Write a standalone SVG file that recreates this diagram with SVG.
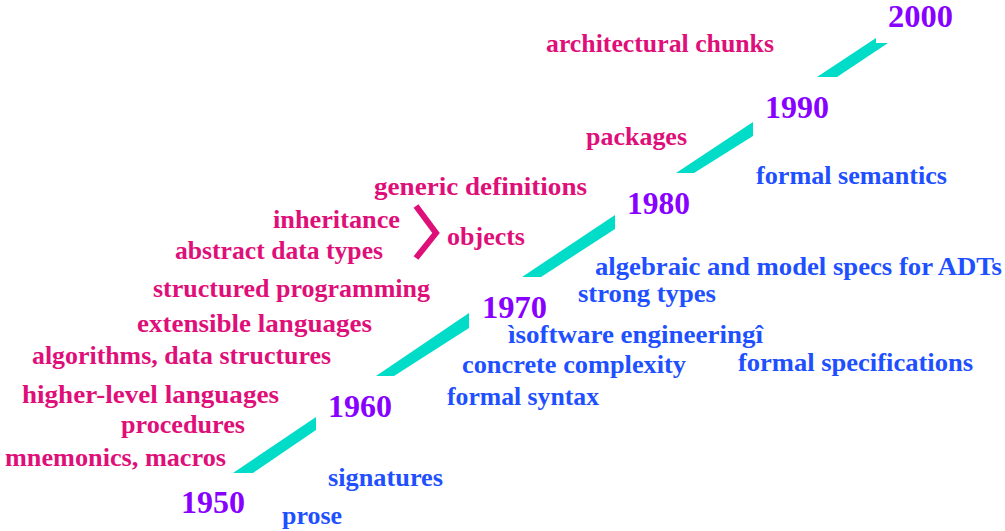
<svg xmlns="http://www.w3.org/2000/svg" width="1005" height="531" viewBox="0 0 1005 531">
<style>
text{font-family:"Liberation Serif","Times New Roman",serif;font-weight:bold;}
.p{fill:#DF0F7A;font-size:26px;}
.b{fill:#1F50FF;font-size:26px;}
.y{fill:#8800FF;font-size:32px;}
.seg{fill:#00DCC8;}
</style>
<rect width="1005" height="531" fill="#FFFFFF"/>
<g id="timeline">
<polygon class="seg" points="233,473 253,473 316,430 316,417"/>
<polygon class="seg" points="376,376 394,376 469,328 469,313"/>
<polygon class="seg" points="522,277 541,277 615,229 615,215"/>
<polygon class="seg" points="676,173 694,173 753,136 753,122"/>
<polygon class="seg" points="817,77 876,38 876,43 888,43 837,77"/>
</g>
<g id="years">
<text class="y" x="888" y="27" textLength="65" lengthAdjust="spacingAndGlyphs">2000</text>
<text class="y" x="765" y="118" textLength="64" lengthAdjust="spacingAndGlyphs">1990</text>
<text class="y" x="627" y="214" textLength="63" lengthAdjust="spacingAndGlyphs">1980</text>
<text class="y" x="482" y="318" textLength="65" lengthAdjust="spacingAndGlyphs">1970</text>
<text class="y" x="328" y="417" textLength="64" lengthAdjust="spacingAndGlyphs">1960</text>
<text class="y" x="181" y="513" textLength="64" lengthAdjust="spacingAndGlyphs">1950</text>
</g>
<g id="objects-bracket">
<polyline points="416,206 436,233 416,258" fill="none" stroke="#DF0F7A" stroke-width="6"/>
</g>
<g id="language-concepts">
<text class="p" x="546" y="52" textLength="228" lengthAdjust="spacingAndGlyphs">architectural chunks</text>
<text class="p" x="586" y="145" textLength="101" lengthAdjust="spacingAndGlyphs">packages</text>
<text class="p" x="374" y="195" textLength="213" lengthAdjust="spacingAndGlyphs">generic definitions</text>
<text class="p" x="273" y="228" textLength="127" lengthAdjust="spacingAndGlyphs">inheritance</text>
<text class="p" x="447" y="245" textLength="78" lengthAdjust="spacingAndGlyphs">objects</text>
<text class="p" x="175" y="259" textLength="208" lengthAdjust="spacingAndGlyphs">abstract data types</text>
<text class="p" x="153" y="297" textLength="277" lengthAdjust="spacingAndGlyphs">structured programming</text>
<text class="p" x="137" y="332" textLength="235" lengthAdjust="spacingAndGlyphs">extensible languages</text>
<text class="p" x="32" y="364" textLength="299" lengthAdjust="spacingAndGlyphs">algorithms, data structures</text>
<text class="p" x="22" y="403" textLength="257" lengthAdjust="spacingAndGlyphs">higher-level languages</text>
<text class="p" x="121" y="433" textLength="124" lengthAdjust="spacingAndGlyphs">procedures</text>
<text class="p" x="5" y="466" textLength="221" lengthAdjust="spacingAndGlyphs">mnemonics, macros</text>
</g>
<g id="specification-concepts">
<text class="b" x="756" y="184" textLength="191" lengthAdjust="spacingAndGlyphs">formal semantics</text>
<text class="b" x="595" y="275" textLength="407" lengthAdjust="spacingAndGlyphs" style="font-size:25px">algebraic and model specs for ADTs</text>
<text class="b" x="578" y="302" textLength="138" lengthAdjust="spacingAndGlyphs" style="font-size:25px">strong types</text>
<text class="b" x="508" y="343" textLength="255" lengthAdjust="spacingAndGlyphs">ìsoftware engineeringî</text>
<text class="b" x="462" y="373" textLength="224" lengthAdjust="spacingAndGlyphs">concrete complexity</text>
<text class="b" x="738" y="371" textLength="235" lengthAdjust="spacingAndGlyphs">formal specifications</text>
<text class="b" x="447" y="405" textLength="152" lengthAdjust="spacingAndGlyphs">formal syntax</text>
<text class="b" x="328" y="486" textLength="115" lengthAdjust="spacingAndGlyphs">signatures</text>
<text class="b" x="282" y="524" textLength="60" lengthAdjust="spacingAndGlyphs">prose</text>
</g>
</svg>
